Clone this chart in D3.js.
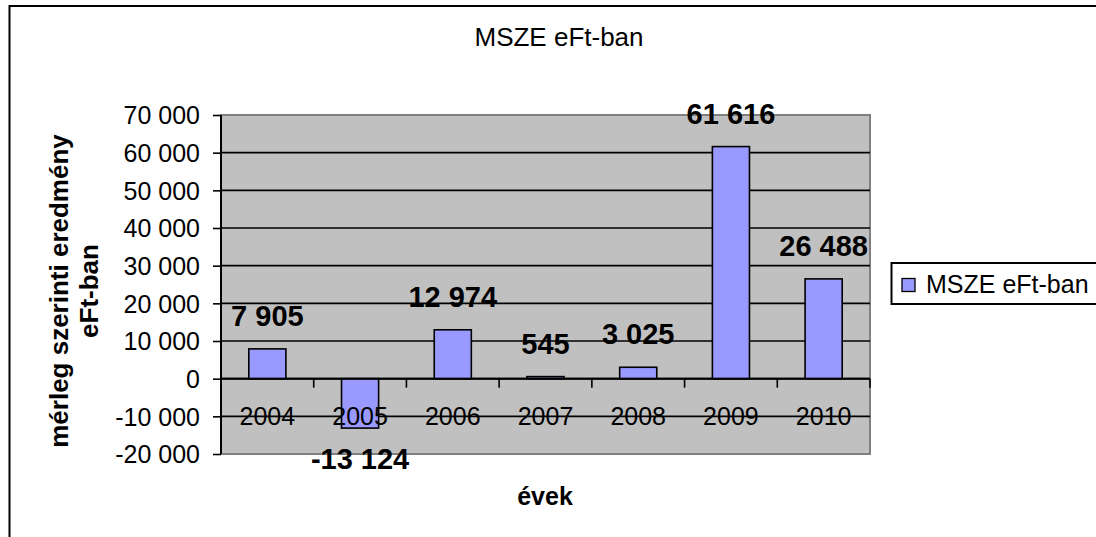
<!DOCTYPE html>
<html>
<head>
<meta charset="utf-8">
<script src="https://cdn.jsdelivr.net/npm/d3@7"></script>
<style>
  body { margin: 0; background: #fff; }
  svg text { font-family: "Liberation Sans", Arial, sans-serif; fill: #000; }
</style>
</head>
<body>
<div id="graph"></div>
<script>
var years = ["2004", "2005", "2006", "2007", "2008", "2009", "2010"];
var values = [7905, -13124, 12974, 545, 3025, 61616, 26488];
var yTicks = [-20000, -10000, 0, 10000, 20000, 30000, 40000, 50000, 60000, 70000];
var seriesName = "MSZE eFt-ban";
var chartTitle = "MSZE eFt-ban";
var xTitle = "évek";
var yTitle = ["mérleg szerinti eredmény", "eFt-ban"];

var W = 1096, H = 537;
var plot = {left: 221, top: 115, right: 870, bottom: 454};

var svg = d3.select('#graph')
    .append('svg')
    .attr('width', W)
    .attr('height', H);

// outer chart frame (runs off the right and bottom edge)
svg.append('rect')
    .attr('x', 9.5)
    .attr('y', 6)
    .attr('width', W + 50)
    .attr('height', H + 50)
    .style('fill', 'white')
    .style('stroke', 'black')
    .style('stroke-width', 2);

var fmt = d3.formatLocale({decimal: ",", thousands: " ", grouping: [3], currency: ["", ""], minus: "-"}).format(",d");

var x = d3.scaleBand()
    .domain(years)
    .range([plot.left, plot.right]);

var y = d3.scaleLinear()
    .domain([yTicks[0], yTicks[yTicks.length - 1]])
    .range([plot.bottom, plot.top]);

var y0 = y(0);

// plot area
svg.append('rect')
    .attr('x', plot.left)
    .attr('y', plot.top)
    .attr('width', plot.right - plot.left)
    .attr('height', plot.bottom - plot.top)
    .style('fill', '#C0C0C0')
    .style('stroke', '#808080')
    .style('stroke-width', 2);

// gridlines
svg.append('g')
    .selectAll('line')
    .data(yTicks.slice(1, -1))
    .enter()
    .append('line')
    .attr('x1', plot.left)
    .attr('x2', plot.right)
    .attr('y1', function(d){ return y(d); })
    .attr('y2', function(d){ return y(d); })
    .style('stroke', 'black')
    .style('stroke-width', 1.6);

// y axis
var vAxis = d3.axisLeft(y)
    .tickValues(yTicks)
    .tickSize(8)
    .tickPadding(13)
    .tickFormat(fmt);

var vGuide = svg.append('g')
    .attr('transform', 'translate(' + plot.left + ',0)')
    .call(vAxis);
vGuide.select('.domain').remove();
vGuide.append('line')
    .attr('x1', 0).attr('x2', 0)
    .attr('y1', plot.top).attr('y2', plot.bottom)
    .style('stroke', 'black')
    .style('stroke-width', 2);
vGuide.selectAll('.tick line')
    .style('stroke', 'black')
    .style('stroke-width', 1.6);
vGuide.selectAll('text')
    .attr('dy', '0.35em')
    .style('font-size', '25px')
    .style('font-family', '"Liberation Sans", Arial, sans-serif')
    .style('fill', 'black');

// bars
var barW = x.bandwidth() * 0.4;
svg.append('g')
    .selectAll('rect')
    .data(values)
    .enter()
    .append('rect')
    .attr('x', function(d, i){ return x(years[i]) + (x.bandwidth() - barW) / 2; })
    .attr('y', function(d){ return Math.min(y(d), y0); })
    .attr('width', barW)
    .attr('height', function(d){ return Math.abs(y(d) - y0); })
    .style('fill', '#9999FF')
    .style('stroke', 'black')
    .style('stroke-width', 1.6);

// category axis at zero
svg.append('line')
    .attr('x1', plot.left)
    .attr('x2', plot.right)
    .attr('y1', y0)
    .attr('y2', y0)
    .style('stroke', 'black')
    .style('stroke-width', 2);

svg.append('g')
    .selectAll('line')
    .data(years.concat(['end']))
    .enter()
    .append('line')
    .attr('x1', function(d){ return d === 'end' ? plot.right : x(d); })
    .attr('x2', function(d){ return d === 'end' ? plot.right : x(d); })
    .attr('y1', y0)
    .attr('y2', y0 + 9)
    .style('stroke', 'black')
    .style('stroke-width', 1.6);

svg.append('g')
    .selectAll('text')
    .data(years)
    .enter()
    .append('text')
    .attr('x', function(d){ return x(d) + x.bandwidth() / 2; })
    .attr('y', y0 + 46)
    .attr('text-anchor', 'middle')
    .style('font-size', '25px')
    .text(function(d){ return d; });

// data labels
svg.append('g')
    .selectAll('text')
    .data(values)
    .enter()
    .append('text')
    .attr('x', function(d, i){ return x(years[i]) + x.bandwidth() / 2; })
    .attr('y', function(d){ return d >= 0 ? y(d) - 23 : y(d) + 41; })
    .attr('text-anchor', 'middle')
    .style('font-size', '29px')
    .style('font-weight', 'bold')
    .text(function(d){ return fmt(d); });

// title
svg.append('text')
    .attr('x', 559)
    .attr('y', 46)
    .attr('text-anchor', 'middle')
    .style('font-size', '26px')
    .text(chartTitle);

// x title
svg.append('text')
    .attr('x', 545)
    .attr('y', 505)
    .attr('text-anchor', 'middle')
    .style('font-size', '25px')
    .style('font-weight', 'bold')
    .text(xTitle);

// y title, two lines
svg.append('g')
    .selectAll('text')
    .data(yTitle)
    .enter()
    .append('text')
    .attr('transform', function(d, i){ return 'translate(' + (68 + i * 30) + ',291) rotate(-90)'; })
    .attr('text-anchor', 'middle')
    .style('font-size', '26px')
    .style('font-weight', 'bold')
    .text(function(d){ return d; });

// legend
var legend = svg.append('g');
legend.append('rect')
    .attr('x', 891.5)
    .attr('y', 263)
    .attr('width', 300)
    .attr('height', 41)
    .style('fill', 'white')
    .style('stroke', 'black')
    .style('stroke-width', 2);
legend.append('rect')
    .attr('x', 902)
    .attr('y', 278.5)
    .attr('width', 13)
    .attr('height', 13)
    .style('fill', '#9999FF')
    .style('stroke', 'black')
    .style('stroke-width', 1.3);
legend.append('text')
    .attr('x', 926)
    .attr('y', 293)
    .style('font-size', '25px')
    .text(seriesName);
</script>
</body>
</html>
